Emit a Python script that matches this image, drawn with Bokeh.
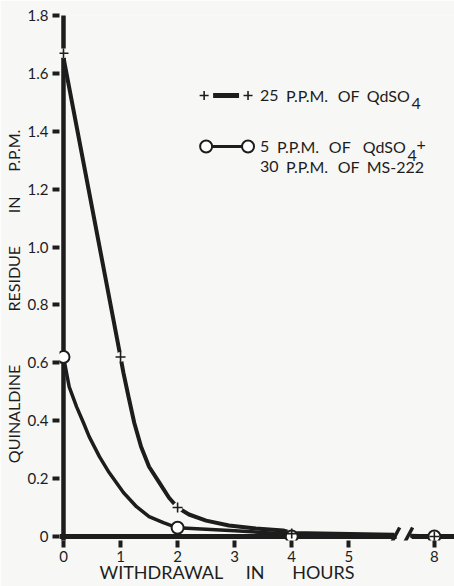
import math
from bokeh.plotting import figure
from bokeh.models import Range1d, FixedTicker, Label
from bokeh.embed import file_html
from bokeh.resources import INLINE

# ---------------- data ----------------
qd25_hours = [0, 1, 2, 4, 8]
qd25_values = [1.67, 0.62, 0.10, 0.01, 0.0]

mix_hours = [0, 2, 4, 8]
mix_values = [0.62, 0.03, 0.0, 0.0]

# traced smooth curves
qd25_curve_hours = [0, 1.0, 1.05, 1.14, 1.24, 1.36, 1.50, 1.68, 1.85, 2.0,
                    2.2, 2.5, 2.9, 3.37, 3.85, 4.0, 5.8, 6.8, 8.0, 9.0]
qd25_curve_values = [1.655, 0.62, 0.566, 0.483, 0.393, 0.310, 0.241, 0.186,
                     0.134, 0.10, 0.076, 0.055, 0.038, 0.028, 0.021, 0.012,
                     0.006, 0.003, 0.0, 0.0]

mix_curve_hours = [0, 0.02, 0.10, 0.23, 0.35, 0.45, 0.63, 0.80, 1.05, 1.28,
                   1.50, 1.75, 2.0, 3.0, 4.0, 5.8, 6.8, 8.0, 9.0]
mix_curve_values = [0.62, 0.60, 0.517, 0.448, 0.393, 0.345, 0.276, 0.221,
                    0.152, 0.103, 0.069, 0.048, 0.03, 0.02, 0.008, 0.004,
                    0.003, 0.0, 0.0]

x_tick_hours = [0, 1, 2, 3, 4, 5, 8]
x_tick_labels = ["0", "1", "2", "3", "4", "5", "8"]
y_ticks = [0, 0.2, 0.4, 0.6, 0.8, 1.0, 1.2, 1.4, 1.6, 1.8]
y_tick_labels = ["0", "0.2", "0.4", "0.6", "0.8", "1.0", "1.2", "1.4", "1.6", "1.8"]

x_title_words = ["WITHDRAWAL", "IN", "HOURS"]
y_title_words = ["QUINALDINE", "RESIDUE", "IN", "P.P.M."]

# ---------------- broken time axis ----------------
def xpos(h):
    return h if h <= 6 else 6.5 + (h - 8) * 0.35

def curve(hours, values):
    xs, ys = [], []
    prev = None
    for h, v in zip(hours, values):
        if prev is not None and prev <= 6 < h:
            xs.append(float("nan")); ys.append(float("nan"))
        xs.append(xpos(h)); ys.append(v)
        prev = h
    return xs, ys

# layout helpers (pixel -> data units) for annotations only
def dx(px):
    return (px - 62) / 57.2

def dy(py):
    return (536 - py) / 289.4

INK = "#1d1d1d"
BG = "#f7f7f5"
FONT = "Lato"
NB = "\u00a0"

p = figure(width=454, height=586, output_backend="svg", toolbar_location=None,
           x_range=Range1d(dx(58), dx(454)), y_range=Range1d(dy(540), dy(15)),
           min_border_left=58, min_border_right=0, min_border_top=15,
           min_border_bottom=46)
p.background_fill_color = BG
p.border_fill_color = BG
p.outline_line_color = None
p.grid.visible = False

# axes
for ax in (p.xaxis[0], p.yaxis[0]):
    ax.axis_line_color = None
    ax.major_tick_line_color = INK
    ax.major_tick_line_width = 4
    ax.major_tick_in = 0
    ax.major_tick_out = 7
    ax.minor_tick_line_color = None
    ax.major_label_text_font = FONT
    ax.major_label_text_font_size = "15px"
    ax.major_label_text_color = INK
    ax.axis_label_text_font = FONT
    ax.axis_label_text_font_style = "normal"
    ax.axis_label_text_color = INK

xt = [xpos(h) for h in x_tick_hours]
p.xaxis.ticker = FixedTicker(ticks=xt)
p.xaxis.major_label_overrides = {t: l for t, l in zip(xt, x_tick_labels)}
p.xaxis.major_label_standoff = 3
p.yaxis.ticker = FixedTicker(ticks=y_ticks)
p.yaxis.major_label_overrides = {t: l for t, l in zip(y_ticks, y_tick_labels)}
p.yaxis.major_label_standoff = 4

p.xaxis.axis_label = (x_title_words[0] + NB * 5 + x_title_words[1] + NB * 6
                      + x_title_words[2] + NB * 13)
p.xaxis.axis_label_text_font_size = "18px"
p.xaxis.axis_label_standoff = -4
p.yaxis.axis_label = (y_title_words[0] + NB * 13 + y_title_words[1] + NB * 8
                      + y_title_words[2] + NB * 6 + y_title_words[3] + NB * 9)
p.yaxis.axis_label_text_font_size = "16px"
p.yaxis.axis_label_standoff = 2

# drawn axis lines (with break)
p.segment(x0=[0], y0=[dy(541)], x1=[0], y1=[dy(13)], line_color=INK, line_width=4.5)
p.segment(x0=[dx(58), dx(411)], y0=[0, 0], x1=[dx(396), dx(454)], y1=[0, 0],
          line_color=INK, line_width=5)
p.segment(x0=[dx(391), dx(404)], y0=[dy(542), dy(542)],
          x1=[dx(399), dx(412)], y1=[dy(527), dy(527)],
          line_color=INK, line_width=3.5)

# curves
cx, cy = curve(qd25_curve_hours, qd25_curve_values)
p.line(cx, cy, line_color=INK, line_width=4)
mx, my = curve(mix_curve_hours, mix_curve_values)
p.line(mx, my, line_color=INK, line_width=3.5)

# markers
qx = [xpos(h) for h in qd25_hours]
p.scatter(qx, qd25_values, marker="circle", size=10, fill_color=BG, line_color=None)
p.scatter([xpos(h) for h in mix_hours], mix_values, marker="circle", size=12,
          fill_color="white", line_color=INK, line_width=2)
p.scatter(qx, qd25_values, marker="cross", size=10, line_color=INK, line_width=1.6)

def lab(text, px, py, size="16px", align="left"):
    p.add_layout(Label(x=dx(px), y=dy(py), text=text, text_font=FONT,
                       text_font_size=size, text_color=INK, text_align=align,
                       text_baseline="middle"))

# legend
p.scatter([dx(203), dx(247)], [dy(95), dy(95)], marker="cross", size=9,
          line_color=INK, line_width=1.6)
p.segment(x0=[dx(212)], y0=[dy(95)], x1=[dx(238)], y1=[dy(95)], line_color=INK, line_width=5)
p.segment(x0=[dx(211)], y0=[dy(146)], x1=[dx(241)], y1=[dy(146)], line_color=INK, line_width=3)
p.scatter([dx(205), dx(247)], [dy(146), dy(146)], marker="circle", size=12,
          fill_color="white", line_color=INK, line_width=2)

for w, px in (("25", 259), ("P.P.M.", 285), ("OF", 337), ("QdSO", 366)):
    lab(w, px, 95)
lab("4", 411, 103)
for w, px in (("5", 259), ("P.P.M.", 276), ("OF", 328), ("QdSO", 362)):
    lab(w, px, 146)
lab("4", 407, 155)
lab("+", 416, 144)
for w, px in (("30", 259), ("P.P.M.", 285), ("OF", 337), ("MS-222", 366)):
    lab(w, px, 166)

open("out.html", "w").write(file_html(p, INLINE))
